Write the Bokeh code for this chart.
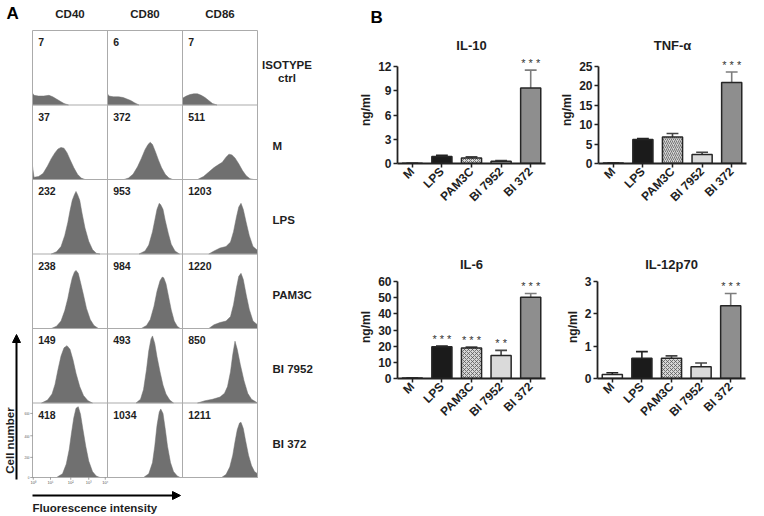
import math
from bokeh.plotting import figure
from bokeh.layouts import row, column
from bokeh.models import Range1d, FixedTicker, Arrow, NormalHead, Title, ColumnDataSource
from bokeh.core.properties import value
from bokeh.embed import file_html
from bokeh.resources import INLINE

FONT = "Liberation Sans"
INK = "#1e1e1e"

# ---------------- Panel A data ----------------
markers = ["CD40", "CD80", "CD86"]
treatments_a = ["ISOTYPE\nctrl", "M", "LPS", "PAM3C", "BI 7952", "BI 372"]
mfi = [[7, 6, 7], [37, 372, 511], [232, 953, 1203],
       [238, 984, 1220], [149, 493, 850], [418, 1034, 1211]]

# histogram outlines per row (treatment) and column (marker):
# x = position along the log fluorescence axis (0..1), h = fraction of the cell height
hist_x = [
    [[0, 0, 0.02, 0.08, 0.15, 0.22, 0.27, 0.32, 0.37, 0.42, 0.48],
     [0, 0, 0.02, 0.08, 0.15, 0.21, 0.26, 0.31, 0.36, 0.42],
     [0, 0, 0.05, 0.1, 0.15, 0.2, 0.25, 0.3, 0.35, 0.4, 0.46]],
    [[0, 0, 0.02, 0.08, 0.14, 0.2, 0.25, 0.3, 0.34, 0.38, 0.42, 0.46, 0.5, 0.55, 0.6, 0.65, 0.7],
     [0.22, 0.28, 0.34, 0.4, 0.45, 0.5, 0.54, 0.57, 0.6, 0.64, 0.68, 0.72, 0.77, 0.82, 0.87],
     [0.2, 0.28, 0.35, 0.42, 0.48, 0.53, 0.58, 0.62, 0.66, 0.7, 0.75, 0.8, 0.85, 0.9, 0.95]],
    [[0.25, 0.32, 0.38, 0.43, 0.47, 0.5, 0.53, 0.56, 0.58, 0.6, 0.63, 0.66, 0.7, 0.75, 0.8, 0.85, 0.9],
     [0.42, 0.5, 0.55, 0.6, 0.63, 0.66, 0.69, 0.71, 0.74, 0.77, 0.81, 0.85, 0.9, 0.96],
     [0.35, 0.42, 0.5, 0.58, 0.64, 0.68, 0.72, 0.75, 0.78, 0.81, 0.85, 0.89, 0.94, 1.0, 1.0]],
    [[0.25, 0.32, 0.38, 0.43, 0.47, 0.5, 0.53, 0.56, 0.58, 0.61, 0.64, 0.68, 0.72, 0.77, 0.82, 0.88],
     [0.45, 0.52, 0.57, 0.62, 0.66, 0.7, 0.73, 0.75, 0.78, 0.81, 0.85, 0.89, 0.93, 0.97],
     [0.35, 0.42, 0.5, 0.58, 0.64, 0.68, 0.72, 0.75, 0.78, 0.81, 0.85, 0.89, 0.94, 1.0, 1.0]],
    [[0.12, 0.2, 0.26, 0.3, 0.34, 0.38, 0.42, 0.46, 0.5, 0.54, 0.58, 0.63, 0.68, 0.74, 0.8],
     [0.38, 0.44, 0.48, 0.52, 0.55, 0.58, 0.6, 0.63, 0.66, 0.7, 0.74, 0.78, 0.83, 0.88],
     [0.2, 0.3, 0.4, 0.5, 0.56, 0.6, 0.64, 0.67, 0.7, 0.73, 0.77, 0.82, 0.87, 0.92, 0.97, 1.0]],
    [[0.32, 0.4, 0.45, 0.49, 0.52, 0.55, 0.58, 0.61, 0.64, 0.67, 0.71, 0.75, 0.8, 0.85, 0.9],
     [0.48, 0.55, 0.6, 0.63, 0.66, 0.69, 0.71, 0.74, 0.77, 0.8, 0.84, 0.88, 0.93, 0.97],
     [0.52, 0.58, 0.63, 0.67, 0.7, 0.73, 0.76, 0.78, 0.81, 0.84, 0.88, 0.92, 0.96, 1.0, 1.0]],
]
hist_h = [
    [[0, 0.16, 0.13, 0.12, 0.12, 0.13, 0.11, 0.08, 0.05, 0.02, 0],
     [0, 0.15, 0.12, 0.11, 0.11, 0.10, 0.08, 0.06, 0.03, 0],
     [0, 0.09, 0.12, 0.14, 0.15, 0.15, 0.13, 0.1, 0.06, 0.02, 0]],
    [[0, 0.18, 0.03, 0.04, 0.08, 0.18, 0.28, 0.36, 0.41, 0.43, 0.42, 0.36, 0.27, 0.16, 0.07, 0.02, 0],
     [0, 0.02, 0.07, 0.17, 0.28, 0.4, 0.47, 0.5, 0.47, 0.37, 0.26, 0.16, 0.07, 0.02, 0],
     [0, 0.04, 0.1, 0.16, 0.2, 0.23, 0.3, 0.34, 0.33, 0.29, 0.21, 0.12, 0.05, 0.01, 0]],
    [[0, 0.03, 0.1, 0.25, 0.42, 0.58, 0.72, 0.8, 0.84, 0.8, 0.72, 0.55, 0.35, 0.17, 0.06, 0.01, 0],
     [0, 0.04, 0.12, 0.3, 0.45, 0.6, 0.68, 0.66, 0.6, 0.45, 0.28, 0.13, 0.04, 0],
     [0, 0.04, 0.08, 0.1, 0.16, 0.3, 0.5, 0.63, 0.68, 0.6, 0.42, 0.25, 0.1, 0.05, 0]],
    [[0, 0.03, 0.1, 0.24, 0.4, 0.55, 0.68, 0.76, 0.78, 0.74, 0.62, 0.45, 0.27, 0.12, 0.04, 0],
     [0, 0.04, 0.12, 0.3, 0.5, 0.64, 0.69, 0.68, 0.6, 0.45, 0.25, 0.1, 0.03, 0],
     [0, 0.05, 0.08, 0.1, 0.16, 0.32, 0.55, 0.7, 0.74, 0.66, 0.45, 0.26, 0.1, 0.05, 0]],
    [[0, 0.04, 0.12, 0.25, 0.45, 0.63, 0.74, 0.77, 0.72, 0.58, 0.4, 0.22, 0.1, 0.03, 0],
     [0, 0.05, 0.18, 0.45, 0.7, 0.86, 0.9, 0.8, 0.62, 0.42, 0.24, 0.12, 0.04, 0],
     [0, 0.03, 0.05, 0.08, 0.13, 0.22, 0.42, 0.65, 0.83, 0.72, 0.52, 0.3, 0.13, 0.05, 0.02, 0]],
    [[0, 0.05, 0.18, 0.38, 0.6, 0.8, 0.93, 0.95, 0.85, 0.66, 0.42, 0.22, 0.08, 0.02, 0],
     [0, 0.05, 0.2, 0.42, 0.7, 0.88, 0.92, 0.86, 0.65, 0.42, 0.2, 0.08, 0.02, 0],
     [0, 0.04, 0.14, 0.3, 0.48, 0.64, 0.73, 0.74, 0.66, 0.5, 0.3, 0.16, 0.08, 0.05, 0]],
]
tiny_x_labels = ["10⁰", "10¹", "10²", "10³", "10⁴"]
tiny_x_pos = [0.01, 0.24, 0.51, 0.75, 0.97]
tiny_y_labels = ["0", "200", "400", "600"]
tiny_y_pos = [0.0, 0.27, 0.56, 0.86]

# ---------------- Panel B data ----------------
cats = ["M", "LPS", "PAM3C", "BI 7952", "BI 372"]
il10_mean = [0.03, 0.86, 0.68, 0.28, 9.35]
il10_sem = [0.0, 0.16, 0.14, 0.08, 2.2]
il10_sig = ["", "", "", "", "* * *"]
tnf_mean = [0.1, 6.2, 6.8, 2.3, 20.9]
tnf_sem = [0.0, 0.25, 0.95, 0.6, 2.7]
tnf_sig = ["", "", "", "", "* * *"]
il6_mean = [0.3, 19.7, 18.9, 14.2, 50.3]
il6_sem = [0.0, 0.4, 0.5, 3.2, 2.3]
il6_sig = ["", "* * *", "* * *", "* *", "* * *"]
il12_mean = [0.12, 0.63, 0.63, 0.36, 2.25]
il12_sem = [0.06, 0.2, 0.07, 0.12, 0.38]
il12_sig = ["", "", "", "", "* * *"]

# ---------------- Panel A figure ----------------
PAGE = 0
CW, CH = 75.0, 74.5          # cell size in px
GX, GY = 32.0, 30.0          # page position of the grid's top-left corner
WA, HA = 338, 516


def ax(px):
    return (px - GX) / CW


def ay(py):
    return (py - GY) / CH


pa = figure(width=WA, height=HA,
            x_range=Range1d(ax(PAGE), ax(PAGE + WA)),
            y_range=Range1d(ay(PAGE + HA), ay(PAGE)),
            x_axis_location=None, y_axis_location=None,
            min_border=0, toolbar_location=None, output_backend="svg",
            outline_line_color=None)
pa.xgrid.visible = False
pa.ygrid.visible = False

hxs, hys = [], []
for r in range(len(treatments_a)):
    for c in range(len(markers)):
        hxs.append([c + v for v in hist_x[r][c]])
        hys.append([r + 1 - v for v in hist_h[r][c]])
pa.patches(hxs, hys, fill_color="#707070", line_color="#707070", line_width=0.5)

nrows, ncols = len(treatments_a), len(markers)
gx = [[c, c] for c in range(ncols + 1)] + [[0, ncols] for r in range(nrows + 1)]
gy = [[0, nrows] for c in range(ncols + 1)] + [[r, r] for r in range(nrows + 1)]
pa.multi_line(gx, gy, line_color="#ababab", line_width=1)

# tiny axis of the bottom-left cell
rb = nrows
pa.segment(x0=tiny_x_pos, y0=[rb] * 5, x1=tiny_x_pos, y1=[rb + 0.03] * 5, line_color="#666", line_width=0.6)
pa.text(x=tiny_x_pos, y=[rb + 0.07] * 5, text=tiny_x_labels, text_align="center", text_baseline="middle",
        text_font=value(FONT), text_font_size="4px", text_color="#555")
pa.segment(x0=[0] * 4, y0=[rb - v for v in tiny_y_pos], x1=[-0.03] * 4, y1=[rb - v for v in tiny_y_pos],
           line_color="#666", line_width=0.6)
pa.text(x=[-0.04] * 4, y=[rb - v for v in tiny_y_pos], text=tiny_y_labels, text_align="right", text_baseline="middle",
        text_font=value(FONT), text_font_size="3px", text_color="#555")

# numbers (MFI)
nx, ny, nt = [], [], []
for r in range(nrows):
    for c in range(ncols):
        nx.append(c + 0.075)
        ny.append(r + 0.16)
        nt.append(str(mfi[r][c]))
pa.text(x=nx, y=ny, text=nt, text_align="left", text_baseline="middle",
        text_font=value(FONT), text_font_size="10.5px", text_font_style="bold", text_color=INK)

# column headers
pa.text(x=[c + 0.5 for c in range(ncols)], y=[ay(13)] * ncols, text=markers, text_align="center",
        text_baseline="middle", text_font=value(FONT), text_font_size="11.5px", text_font_style="bold",
        text_color=INK)

# row labels
pa.text(x=[ax(286.5)], y=[0.55], text=[treatments_a[0]], text_align="center", text_baseline="middle",
        text_line_height=1.15, text_font=value(FONT), text_font_size="11.5px", text_font_style="bold",
        text_color=INK)
pa.text(x=[ax(272)] * (nrows - 1), y=[r + 0.55 for r in range(1, nrows)], text=treatments_a[1:],
        text_align="left", text_baseline="middle", text_font=value(FONT), text_font_size="11.5px",
        text_font_style="bold", text_color=INK)

# panel letter
pa.text(x=[ax(6)], y=[ay(13)], text=["A"], text_align="left", text_baseline="middle",
        text_font=value(FONT), text_font_size="17px", text_font_style="bold", text_color="black")

# arrows and their titles
pa.add_layout(Arrow(end=NormalHead(size=8, fill_color="black", line_color="black"),
                    x_start=ax(16), y_start=ay(479), x_end=ax(16), y_end=ay(334),
                    line_width=2, line_color="black"))
pa.add_layout(Arrow(end=NormalHead(size=8, fill_color="black", line_color="black"),
                    x_start=ax(32), y_start=ay(495), x_end=ax(180), y_end=ay(495),
                    line_width=2, line_color="black"))
pa.text(x=[ax(9)], y=[ay(440)], text=["Cell number"], angle=math.pi / 2, text_align="center",
        text_baseline="middle", text_font=value(FONT), text_font_size="11.5px", text_font_style="bold",
        text_color=INK)
pa.text(x=[ax(32)], y=[ay(507)], text=["Fluorescence intensity"], text_align="left",
        text_baseline="middle", text_font=value(FONT), text_font_size="11.5px", text_font_style="bold",
        text_color=INK)

# ---------------- Panel B figures ----------------
FW = 148          # frame width
TICK_PX = 97      # pixel span from 0 to the top tick
fills = ["white", "#1b1b1b", "#d6d6d6", "#dadada", "#8e8e8e"]
err_colors = ["#222222", "#222222", "#444444", "#444444", "#7d7d7d"]


def bar_chart(title, mean, sem, sig, top, step, pam_hatch, frame_h, b_left, b_right, b_top, b_bottom):
    idx = list(range(len(cats)))
    yend = top * frame_h / TICK_PX
    p = figure(frame_width=FW, frame_height=frame_h,
               x_range=Range1d(-0.5, len(cats) - 0.5), y_range=Range1d(0, yend),
               min_border_left=b_left, min_border_right=b_right,
               min_border_top=b_top, min_border_bottom=b_bottom,
               toolbar_location=None, output_backend="svg",
               outline_line_color=None)
    p.add_layout(Title(text=title, align="center", offset=-5, standoff=8, text_font=FONT,
                       text_font_size="13px", text_font_style="bold", text_color=INK), "above")
    p.xgrid.visible = False
    p.ygrid.visible = False
    hi = [m + s for m, s in zip(mean, sem)]
    hatches = [" ", " ", pam_hatch, " ", " "]
    src = ColumnDataSource(dict(x=idx, top=mean, hi=hi, fill=fills, hatch=hatches, sig=sig,
                                ec=err_colors, cl=[i - 0.2 for i in idx], cr=[i + 0.2 for i in idx]))
    p.segment(x0="x", y0="top", x1="x", y1="hi", line_color="ec", line_width=1.6, source=src)
    p.segment(x0="cl", y0="hi", x1="cr", y1="hi", line_color="ec", line_width=1.6, source=src)
    p.vbar(x="x", top="top", bottom=0, width=0.68, source=src, fill_color="fill",
           line_color="#262626", line_width=1.5, hatch_pattern="hatch", hatch_color="#5a5a5a",
           hatch_scale=4, hatch_weight=0.8)
    p.text(x="x", y="hi", text="sig", source=src, text_align="center", text_baseline="middle",
           y_offset=-7, text_font=value(FONT), text_font_size="11px", text_color="#333333")

    p.xaxis.ticker = FixedTicker(ticks=idx)
    p.xaxis.major_label_overrides = {i: c for i, c in enumerate(cats)}
    p.xaxis.major_label_orientation = math.pi / 4
    p.yaxis.ticker = FixedTicker(ticks=list(range(0, top + 1, step)))
    p.yaxis.bounds = (0, top)
    p.yaxis.axis_label = "ng/ml"
    p.yaxis.axis_label_standoff = 2
    p.yaxis.axis_label_text_font = FONT
    p.yaxis.axis_label_text_font_size = "12px"
    p.yaxis.axis_label_text_font_style = "bold"
    p.yaxis.axis_label_text_color = INK
    for a in p.axis:
        a.axis_line_width = 1.8
        a.axis_line_color = "#222222"
        a.major_tick_line_width = 1.5
        a.major_tick_line_color = "#222222"
        a.major_tick_out = 4
        a.major_tick_in = 0
        a.minor_tick_line_color = None
        a.major_label_standoff = 2
        a.major_label_text_font = FONT
        a.major_label_text_font_size = "12px"
        a.major_label_text_font_style = "bold"
        a.major_label_text_color = INK
    return p


p1 = bar_chart("IL-10", il10_mean, il10_sem, il10_sig, 12, 3, "x", 107, 59, 12, 56, 60)
p2 = bar_chart("TNF-α", tnf_mean, tnf_sem, tnf_sig, 25, 5, "/", 107, 40, 10, 56, 60)
p3 = bar_chart("IL-6", il6_mean, il6_sem, il6_sig, 60, 10, "x", 103, 59, 12, 52, 60)
p4 = bar_chart("IL-12p70", il12_mean, il12_sem, il12_sig, 3, 1, "x", 103, 40, 10, 52, 60)

# panel letter B: an extra title stacked above the IL-10 title, shifted left of the frame
p1.add_layout(Title(text="B", align="left", offset=-27, standoff=10, text_font=FONT,
                    text_font_size="17px", text_font_style="bold", text_color="black"), "above")

layout = row(pa, column(row(p1, p2), row(p3, p4)))
open("out.html", "w").write(file_html(layout, INLINE))
